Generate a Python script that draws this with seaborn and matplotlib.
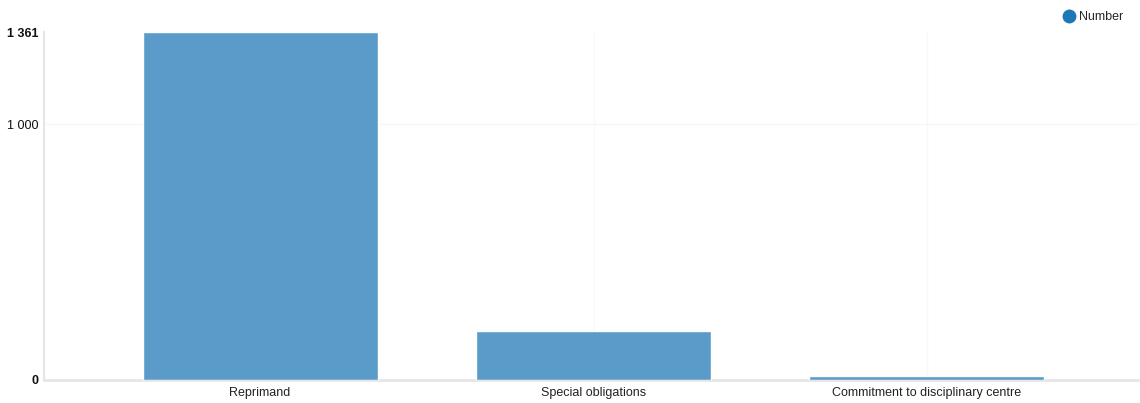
import matplotlib
matplotlib.use("Agg")
import matplotlib.pyplot as plt
import seaborn as sns
import pandas as pd
from matplotlib.lines import Line2D

categories = ["Reprimand", "Special obligations", "Commitment to disciplinary centre"]
values = [1361, 193, 17]
series_name = "Number"
y_ticks = [0, 1000, 1361]
y_tick_labels = ["0", "1 000", "1 361"]

sns.set_theme(style="white")
plt.rcParams["font.family"] = ["Liberation Sans", "DejaVu Sans"]

df = pd.DataFrame({"category": categories, "value": values})

fig = plt.figure(figsize=(11.4, 4.03), dpi=100)
ax = fig.add_axes([44 / 1140, 1 - 380 / 403, (1138 - 44) / 1140, (380 - 32) / 403])

sns.barplot(data=df, x="category", y="value", color="#5b9bc9", saturation=1,
            width=0.705, ax=ax, zorder=3)

ax.set_xlim(-0.648, 2.633)
ax.set_ylim(0, 1361)
ax.set_yticks(y_ticks)
ax.set_yticklabels(y_tick_labels)
for lbl, t in zip(ax.get_yticklabels(), y_ticks):
    lbl.set_fontsize(9)
    lbl.set_color("#111111")
    if t in (0, 1361):
        lbl.set_fontweight("bold")
ax.tick_params(axis="y", length=0, pad=4)
ax.tick_params(axis="x", length=0, pad=5, labelsize=9, labelcolor="#222222")
ax.set_xlabel("")
ax.set_ylabel("")

# faint gridlines
ax.axhline(1000, color="#f6f6f6", lw=1, zorder=1)
for i in range(len(categories)):
    ax.axvline(i, color="#f8f8f8", lw=1, zorder=1)

for side in ["top", "right"]:
    ax.spines[side].set_visible(False)
ax.spines["left"].set_color("#e6e6e6")
ax.spines["left"].set_linewidth(1.5)
ax.spines["bottom"].set_color("#e6e6e6")
ax.spines["bottom"].set_linewidth(2)
ax.spines["bottom"].set_zorder(2)

handle = Line2D([], [], marker="o", linestyle="", markersize=9,
                markerfacecolor="#1f77b4", markeredgecolor="#1f77b4")
fig.legend([handle], [series_name], loc="center left",
           bbox_to_anchor=(1055 / 1140, 1 - 17 / 403), frameon=False,
           fontsize=9, handletextpad=0.2, borderpad=0, handlelength=1.2)

fig.savefig("out.png", dpi=100)
